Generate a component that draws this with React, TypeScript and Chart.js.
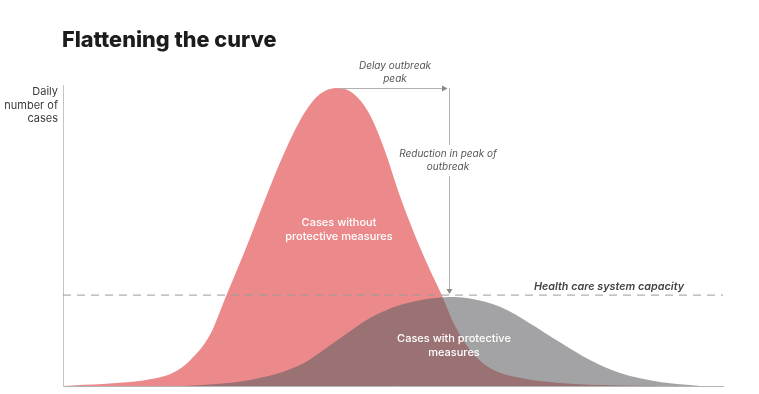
import React, { useEffect, useRef } from "react";
import { Chart, registerables } from "chart.js";

Chart.register(...registerables);

const TITLE = "Flattening the curve";
const Y_LABEL = ["Daily", "number of", "cases"];

// Cases without protective measures
const withoutDays = [0, 1, 5, 9, 11, 12.7, 14.7, 16.2, 18.2, 20.2, 22.2, 24.2, 25.7, 27.5, 29.2, 30.7, 32.2, 33.7, 35.2, 36.7, 37.9, 39.2, 40.7, 42.7, 45.7, 49.7, 55.7, 60];
const withoutCases = [0, 0.2, 0.9, 2.4, 4.4, 8.5, 17, 29, 45, 62, 78, 91, 97, 99, 96.7, 90, 78, 63, 50, 38.5, 30, 20, 12, 6, 2.7, 1, 0.2, 0];

// Cases with protective measures
const withDays = [12, 15, 18.7, 23.7, 27.7, 30.7, 33.7, 36.7, 38.7, 40.7, 43.7, 46.7, 49.7, 52.7, 55.7, 59.7, 63.7];
const withCases = [0, 0.6, 2, 7, 15.9, 22.6, 26.9, 29.1, 29.6, 29.1, 26.3, 20.8, 14.5, 8.6, 4.3, 1.3, 0];

// Health care system capacity
const capacityDays = [0, 66];
const capacityCases = [30.2, 30.2];

// Annotation anchors (data units)
const peakDay = 27.5;
const peakValue = 99;
const delayedPeakDay = 38.4;

const LABEL_WITHOUT = ["Cases without", "protective measures"];
const LABEL_WITH = ["Cases with protective", "measures"];
const LABEL_DELAY = ["Delay outbreak", "peak"];
const LABEL_REDUCTION = ["Reduction in peak of", "outbreak"];
const LABEL_CAPACITY = "Health care system capacity";

const FONT = "Inter, 'Open Sans', 'DejaVu Sans', sans-serif";

const toPoints = (xs: number[], ys: number[]) => xs.map((x, i) => ({ x, y: ys[i] }));

const annotations = {
  id: "annotations",
  afterDraw(chart: any) {
    const ctx = chart.ctx as CanvasRenderingContext2D;
    const xs = chart.scales.x;
    const ys = chart.scales.y;
    const area = chart.chartArea;
    ctx.save();

    // Title
    ctx.fillStyle = "#1c1c1c";
    ctx.font = `800 21.7px ${FONT}`;
    ctx.textAlign = "left";
    ctx.textBaseline = "alphabetic";
    ctx.fillText(TITLE, 62, 47);

    // Y axis label
    ctx.fillStyle = "#3a3a3a";
    ctx.font = `400 11px ${FONT}`;
    ctx.textAlign = "right";
    ctx.textBaseline = "middle";
    Y_LABEL.forEach((t, i) => ctx.fillText(t, area.left - 5, 92 + i * 13.5));

    // Delay arrow
    const px0 = xs.getPixelForValue(peakDay);
    const px1 = xs.getPixelForValue(delayedPeakDay);
    const pyTop = ys.getPixelForValue(peakValue);
    const pyCap = ys.getPixelForValue(capacityCases[0]);
    ctx.strokeStyle = "#b0b0b0";
    ctx.fillStyle = "#8a8a8a";
    ctx.lineWidth = 1;
    ctx.beginPath();
    ctx.moveTo(px0, pyTop + 0.5);
    ctx.lineTo(px1 - 4, pyTop + 0.5);
    ctx.stroke();
    ctx.beginPath();
    ctx.moveTo(px1 - 5, pyTop - 2.5);
    ctx.lineTo(px1 + 0.5, pyTop + 0.5);
    ctx.lineTo(px1 - 5, pyTop + 3.5);
    ctx.closePath();
    ctx.fill();

    // Reduction arrow (vertical, broken by text)
    const vx = px1 + 2.5;
    ctx.beginPath();
    ctx.moveTo(vx, pyTop);
    ctx.lineTo(vx, 145);
    ctx.moveTo(vx, 176);
    ctx.lineTo(vx, pyCap - 5);
    ctx.stroke();
    ctx.beginPath();
    ctx.moveTo(vx - 3, pyCap - 6);
    ctx.lineTo(vx, pyCap - 1);
    ctx.lineTo(vx + 3, pyCap - 6);
    ctx.closePath();
    ctx.fill();

    // Italic annotations
    ctx.fillStyle = "#555555";
    ctx.font = `italic 400 10px ${FONT}`;
    ctx.textAlign = "center";
    ctx.textBaseline = "middle";
    LABEL_DELAY.forEach((t, i) => ctx.fillText(t, 395, 66 + i * 12.5));
    LABEL_REDUCTION.forEach((t, i) => ctx.fillText(t, 448, 154 + i * 13));

    ctx.fillStyle = "#444444";
    ctx.font = `italic 600 10.8px ${FONT}`;
    ctx.fillText(LABEL_CAPACITY, 609, pyCap - 8);

    // Series labels
    ctx.fillStyle = "#ffffff";
    ctx.font = `500 11px ${FONT}`;
    LABEL_WITHOUT.forEach((t, i) => ctx.fillText(t, 339, 223 + i * 13.5));
    LABEL_WITH.forEach((t, i) => ctx.fillText(t, 454, 339 + i * 14));

    ctx.restore();
  },
};

export default function App() {
  const ref = useRef<HTMLCanvasElement>(null);

  useEffect(() => {
    document.body.style.margin = "0";
    const canvas = ref.current!;
    const chart = new Chart(canvas, {
      type: "line",
      data: {
        datasets: [
          {
            label: "Health care system capacity",
            data: toPoints(capacityDays, capacityCases),
            borderColor: "#9a9a9a",
            borderWidth: 1,
            borderDash: [8, 6],
            pointRadius: 0,
            fill: false,
            order: 1,
          },
          {
            label: "Cases with protective measures",
            data: toPoints(withDays, withCases),
            borderWidth: 0,
            borderColor: "rgba(0,0,0,0)",
            backgroundColor: "rgba(96,96,100,0.58)",
            pointRadius: 0,
            fill: "origin",
            cubicInterpolationMode: "monotone",
            order: 2,
          },
          {
            label: "Cases without protective measures",
            data: toPoints(withoutDays, withoutCases),
            borderWidth: 0,
            borderColor: "rgba(0,0,0,0)",
            backgroundColor: "#ec8a8b",
            pointRadius: 0,
            fill: "origin",
            cubicInterpolationMode: "monotone",
            order: 3,
          },
        ],
      },
      options: {
        animation: false,
        responsive: false,
        events: [],
        layout: { padding: { left: 63, right: 36, top: 85, bottom: 8 } },
        plugins: {
          legend: { display: false },
          title: { display: false },
          tooltip: { enabled: false },
        },
        scales: {
          x: {
            type: "linear",
            min: 0,
            max: 66,
            ticks: { display: false },
            grid: { display: false, drawTicks: false },
            border: { display: true, color: "#b4b4b4", width: 1 },
          },
          y: {
            min: 0,
            max: 100,
            ticks: { display: false },
            grid: { display: false, drawTicks: false },
            border: { display: true, color: "#c4c4c4", width: 1 },
          },
        },
      },
      plugins: [annotations],
    });
    return () => chart.destroy();
  }, []);

  return (
    <div style={{ width: 759, height: 394, background: "#fff" }}>
      <canvas ref={ref} width={759} height={394} />
    </div>
  );
}
